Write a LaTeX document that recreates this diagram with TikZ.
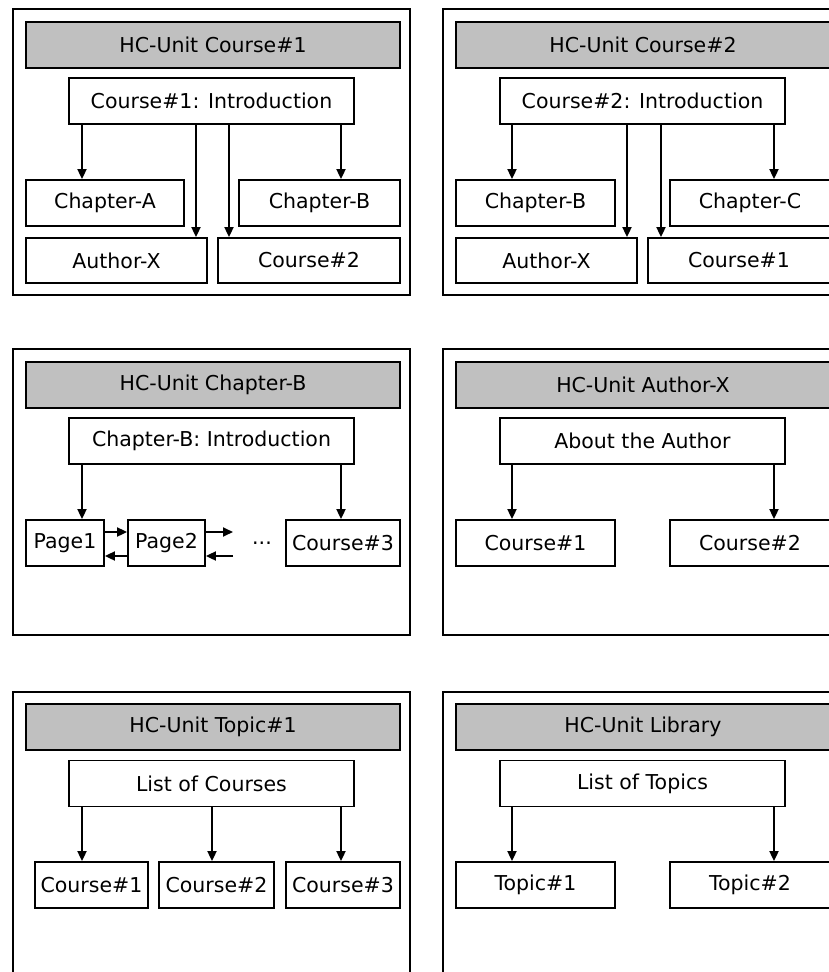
\documentclass[tikz,border=0pt]{standalone}
\usepackage{fontspec}
\setmainfont{DejaVu Sans}
\usetikzlibrary{arrows.meta,positioning}
\definecolor{headgray}{HTML}{C0C0C0}

\tikzset{
  unitframe/.style={draw,line width=1.8pt},
  headbox/.style={draw,fill=headgray,line width=1.8pt,inner sep=0pt,
    minimum width=374pt,minimum height=46pt},
  introbox/.style={draw,fill=white,line width=1.8pt,inner sep=0pt,
    minimum width=285pt,minimum height=46pt},
  itembox/.style={draw,fill=white,line width=1.8pt,inner sep=0pt,
    minimum height=46pt},
  link/.style={-{Triangle[length=10pt,width=9pt]},line width=1.8pt},
}

\begin{document}
\begin{tikzpicture}[x=1pt,y=-1pt,font=\fontsize{20.5}{24}\selectfont]
  \useasboundingbox (0,0) rectangle (829,972);
  \clip (0,0) rectangle (829,972);
  \fill[white] (0,0) rectangle (829,972);

  % Unit for Course#1
  \begin{scope}
    \draw[unitframe] (13,9) rectangle (410,295);
    \node[headbox] (c1head) at (213,45) {HC-Unit Course\#1};
    \node[introbox] (c1intro) at (211.5,101) {Course\#1: Introduction};
    \node[itembox,minimum width=158pt] (c1cha) at (105,203) {Chapter-A};
    \node[itembox,minimum width=161pt] (c1chb) at (319.5,203) {Chapter-B};
    \node[itembox,minimum width=181pt,minimum height=45pt] (c1auth) at (116.5,260.5) {Author-X};
    \node[itembox,minimum width=182pt,minimum height=45pt] (c1ctwo) at (309,260.5) {Course\#2};
    \foreach \t/\x in {cha/82,auth/196,ctwo/229,chb/341} {
      \coordinate (c1x\t) at (\x,0);
      \draw[link] (c1intro.south -| c1x\t) -- (c1\t.north -| c1x\t);
    }
  \end{scope}

  % Unit for Course#2
  \begin{scope}[shift={(430,0)}]
    \draw[unitframe] (13,9) rectangle (410,295);
    \node[headbox] (c2head) at (213,45) {HC-Unit Course\#2};
    \node[introbox] (c2intro) at (212.5,101) {Course\#2: Introduction};
    \node[itembox,minimum width=159pt] (c2chb) at (105.5,203) {Chapter-B};
    \node[itembox,minimum width=160pt] (c2chc) at (320,203) {Chapter-C};
    \node[itembox,minimum width=181pt,minimum height=45pt] (c2auth) at (116.5,260.5) {Author-X};
    \node[itembox,minimum width=182pt,minimum height=45pt] (c2cone) at (309,260.5) {Course\#1};
    \foreach \t/\x in {chb/82,auth/197,cone/231,chc/344} {
      \coordinate (c2x\t) at (\x,0);
      \draw[link] (c2intro.south -| c2x\t) -- (c2\t.north -| c2x\t);
    }
  \end{scope}

  % Unit for Chapter-B, pages linked both ways
  \begin{scope}[shift={(0,340)}]
    \draw[unitframe] (13,9) rectangle (410,295);
    \node[headbox] (bhead) at (213,45) {HC-Unit Chapter-B};
    \node[introbox] (bintro) at (211.5,101) {Chapter-B: Introduction};
    \node[itembox,minimum width=78pt] (bpone) at (65,203) {Page1};
    \node[itembox,minimum width=77pt] (bptwo) at (166.5,203) {Page2};
    \node (bdots) at (262,203) {...};
    \node[itembox,minimum width=114pt] (bcthree) at (343,203) {Course\#3};
    \foreach \t/\x in {pone/82,cthree/341} {
      \coordinate (bx\t) at (\x,0);
      \draw[link] (bintro.south -| bx\t) -- (b\t.north -| bx\t);
    }
    \draw[link] ([yshift=11pt]bpone.east) -- ([yshift=11pt]bptwo.west);
    \draw[link] ([yshift=-13pt]bptwo.west) -- ([yshift=-13pt]bpone.east);
    \coordinate (bnext) at (233,192);
    \coordinate (bback) at (233,216);
    \draw[link] (bptwo.east |- bnext) -- (bnext);
    \draw[link] (bback) -- (bptwo.east |- bback);
  \end{scope}

  % Unit for Author-X
  \begin{scope}[shift={(430,340)}]
    \draw[unitframe] (13,9) rectangle (410,295);
    \node[headbox] (ahead) at (213,45) {HC-Unit Author-X};
    \node[introbox] (aintro) at (212.5,101) {About the Author};
    \node[itembox,minimum width=159pt] (acone) at (105.5,203) {Course\#1};
    \node[itembox,minimum width=160pt] (actwo) at (320,203) {Course\#2};
    \foreach \t/\x in {cone/82,ctwo/344} {
      \coordinate (ax\t) at (\x,0);
      \draw[link] (aintro.south -| ax\t) -- (a\t.north -| ax\t);
    }
  \end{scope}

  % Unit for Topic#1
  \begin{scope}[shift={(0,682)}]
    \draw[unitframe] (13,10) rectangle (410,296);
    \node[headbox] (thead) at (213,45) {HC-Unit Topic\#1};
    \node[introbox] (tintro) at (211.5,101.5) {List of Courses};
    \node[itembox,minimum width=113pt] (tcone) at (91.5,203) {Course\#1};
    \node[itembox,minimum width=115pt] (tctwo) at (216.5,203) {Course\#2};
    \node[itembox,minimum width=114pt] (tcthree) at (343,203) {Course\#3};
    \foreach \t/\x in {cone/82,ctwo/212,cthree/341} {
      \coordinate (tx\t) at (\x,0);
      \draw[link] (tintro.south -| tx\t) -- (t\t.north -| tx\t);
    }
  \end{scope}

  % Unit for the Library
  \begin{scope}[shift={(430,682)}]
    \draw[unitframe] (13,10) rectangle (410,296);
    \node[headbox] (lhead) at (213,45) {HC-Unit Library};
    \node[introbox] (lintro) at (212.5,101.5) {List of Topics};
    \node[itembox,minimum width=159pt] (ltone) at (105.5,203) {Topic\#1};
    \node[itembox,minimum width=160pt] (lttwo) at (320,203) {Topic\#2};
    \foreach \t/\x in {tone/82,ttwo/344} {
      \coordinate (lx\t) at (\x,0);
      \draw[link] (lintro.south -| lx\t) -- (l\t.north -| lx\t);
    }
  \end{scope}
\end{tikzpicture}
\end{document}
